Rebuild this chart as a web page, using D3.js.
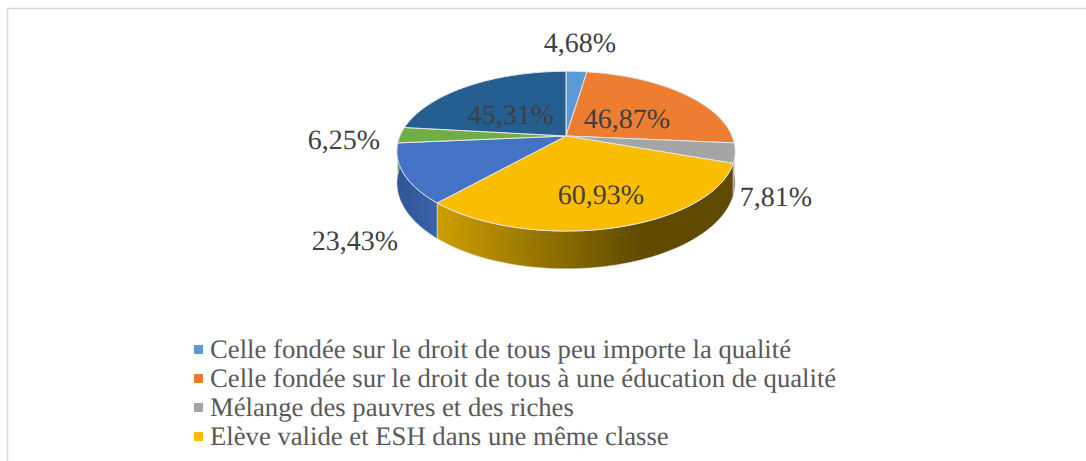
<!DOCTYPE html>
<html>
<head>
<meta charset="utf-8">
<script src="https://cdn.jsdelivr.net/npm/d3@7"></script>
<style>
html,body{margin:0;padding:0;background:#fff;overflow:hidden;}
text{font-family:"Liberation Serif","Times New Roman",serif;text-rendering:geometricPrecision;}
</style>
</head>
<body>
<div id="chart"></div>
<script>
var sliceLabels = ["4,68%","46,87%","7,81%","60,93%","23,43%","6,25%","45,31%"];
var sliceValues = [4.68,46.87,7.81,60.93,23.43,6.25,45.31];
var sliceColors = ["#5b9bd5","#ed7d31","#a5a5a5","#fbbd00","#4472c4","#70ad47","#255e91"];
var legendNames = [
  "Celle fondée sur le droit de tous peu importe la qualité",
  "Celle fondée sur le droit de tous à une éducation de qualité",
  "Mélange des pauvres et des riches",
  "Elève valide et ESH dans une même classe"
];

var width = 1086, height = 461;
var cx = 566, cy = 136;      // apex of the pie
var rx = 166, ry = 77;       // radii before the perspective
var persp = 0.19;
var depth = 30.6;

// label centres, relative to the apex
var labelOffsets = [[14,-93],[61,-17],[210,61],[35,59],[-211,105],[-222,4],[-55,-21]];

var svg = d3.select("#chart").append("svg").attr("width",width).attr("height",height).style("display","block");

// frame, open on the right and at the bottom
svg.append("path")
  .attr("d","M7.5 "+height+"V8.5H"+width)
  .attr("fill","none").attr("stroke","#d9d9d9").attr("stroke-width",1.5);

var arcs = d3.pie().sort(null).value(function(d){return d;})(sliceValues);

function project(a,r,z) {
  var u = Math.sin(a)*r, v = -Math.cos(a)*r;
  var w = 1-persp*v;
  return [cx+rx*u/w, cy+(ry*v+z)/w];
}
var line = d3.line();
function samples(a0,a1) {
  return d3.range(0,1.0001,1/60).map(function(t){return a0+(a1-a0)*t;});
}

var defs = svg.append("defs");
function wallGradient(id,x1,x2,c1,c2) {
  var g = defs.append("linearGradient").attr("id",id)
    .attr("gradientUnits","userSpaceOnUse").attr("x1",x1).attr("x2",x2).attr("y1",0).attr("y2",0);
  g.append("stop").attr("offset","0%").attr("stop-color",c1);
  g.append("stop").attr("offset","100%").attr("stop-color",c2);
}
wallGradient("wall3",440,640,"#cb9e00","#5f4a00");
wallGradient("wall4",397,440,"#2e5595","#3b64ad");

// side walls of the front slices
var walls = svg.append("g");
arcs.forEach(function(d,i){
  if(d.endAngle<=Math.PI/2 || d.startAngle>=Math.PI*1.5) return;
  var a0 = Math.max(d.startAngle,Math.PI/2), a1 = Math.min(d.endAngle,Math.PI*1.5);
  var top = samples(a0,a1).map(function(a){return project(a,1,0);});
  var bottom = samples(a1,a0).map(function(a){return project(a,1,depth);});
  walls.append("path")
    .attr("d",line(top.concat(bottom))+"Z")
    .attr("fill",i==3 ? "url(#wall3)" : i==4 ? "url(#wall4)" : d3.color(sliceColors[i]).darker(1))
    .attr("stroke","#e8e8e8").attr("stroke-width",0.6);
});

// top faces
svg.append("g").selectAll("path").data(arcs).enter().append("path")
  .attr("d",function(d){
    var rim = samples(d.startAngle,d.endAngle).map(function(a){return project(a,1,0);});
    return line([project(0,0,0)].concat(rim))+"Z";
  })
  .attr("fill",function(d,i){return sliceColors[i];})
  .attr("stroke","#e6e6e6").attr("stroke-width",1).attr("stroke-linejoin","round");

svg.append("g").selectAll("text").data(sliceLabels).enter().append("text")
  .attr("x",function(d,i){return cx+labelOffsets[i][0];})
  .attr("y",function(d,i){return cy+labelOffsets[i][1];})
  .attr("text-anchor","middle").attr("dominant-baseline","central")
  .attr("font-size","28px").attr("fill","#404040")
  .text(function(d){return d;});

// legend
var legendY = d3.scalePoint().domain(legendNames).range([349,436]);
var legend = svg.append("g").selectAll("g").data(legendNames).enter().append("g")
  .attr("transform",function(d){return "translate(0 "+legendY(d)+")";});
legend.append("rect")
  .attr("x",194).attr("y",-4).attr("width",9).attr("height",9)
  .attr("fill",function(d,i){return sliceColors[i];});
legend.append("text")
  .attr("x",210).attr("y",0).attr("dominant-baseline","central")
  .attr("font-size","26.7px").attr("fill","#595959")
  .text(function(d){return d;});
</script>
</body>
</html>
